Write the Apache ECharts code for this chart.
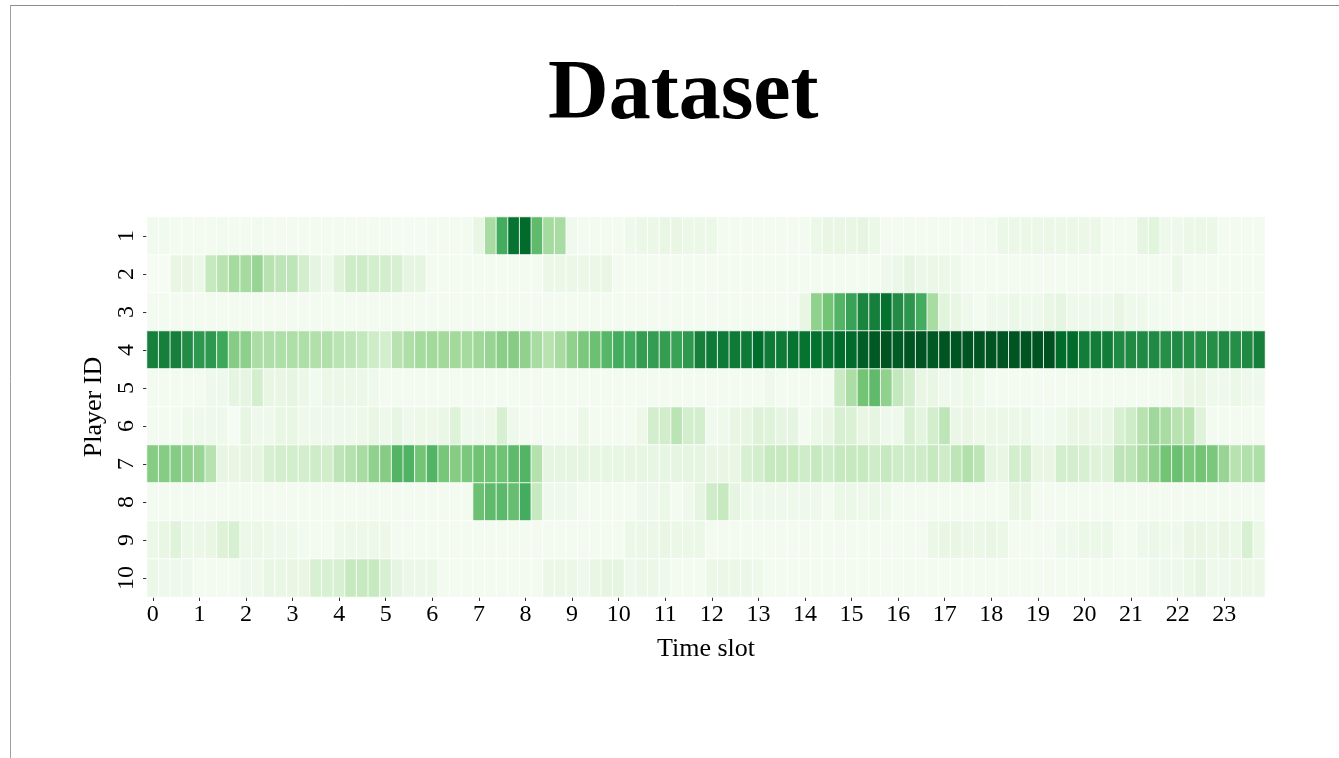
<!DOCTYPE html>
<html>
<head>
<meta charset="utf-8">
<title>Dataset</title>
<script src="https://cdn.jsdelivr.net/npm/echarts@6/dist/echarts.min.js"></script>
<style>
  html, body { margin: 0; padding: 0; background: #ffffff; }
  #chart { width: 1339px; height: 758px; }
</style>
</head>
<body>
<div id="chart"></div>
<script>
// Player activity per 15-minute slot (4 slots per hour, 96 per day), scale 0-100
const playerIds = ['1', '2', '3', '4', '5', '6', '7', '8', '9', '10'];
const hourLabels = ['0','1','2','3','4','5','6','7','8','9','10','11','12','13','14','15','16','17','18','19','20','21','22','23'];
const slotsPerHour = 4;

const player1 = [
  4,4,3,3,3,3,4,3,3,4,3,3,3,3,3,3,3,3,3,3,3,2,2,2,
  3,3,3,3,10,35,62,85,88,55,36,35,5,3,3,3,3,6,8,8,10,10,8,8,
  8,3,3,3,3,3,3,3,3,8,10,10,10,12,8,3,3,3,3,3,3,3,3,3,
  4,8,8,8,8,8,8,8,8,8,3,3,3,12,14,6,6,8,8,8,3,3,3,3
];
const player2 = [
  1,1,10,10,8,25,30,36,36,40,30,28,28,20,12,6,15,22,22,20,20,18,12,12,
  3,3,3,3,3,3,3,3,3,3,8,8,8,8,8,10,3,3,3,3,3,3,3,3,
  3,3,3,3,3,3,3,3,3,3,3,3,3,3,3,6,8,12,8,8,8,6,3,3,
  3,3,3,3,3,3,3,3,3,3,3,3,3,3,3,3,8,3,3,3,3,3,3,3
];
const player3 = [
  3,3,3,3,3,3,3,3,3,3,3,3,3,3,3,3,3,3,3,3,3,3,3,3,
  3,3,3,3,3,3,3,3,3,3,3,3,3,3,3,3,3,3,3,3,3,3,3,3,
  3,3,3,3,3,3,3,3,10,42,50,58,66,78,80,86,75,71,62,35,14,10,6,3,
  6,6,8,6,6,10,12,6,6,6,6,10,6,6,4,3,3,3,3,3,3,3,3,3
];
const player4 = [
  80,80,80,75,70,70,64,45,43,34,33,33,33,33,32,32,29,28,26,22,20,30,33,36,
  37,37,37,36,38,40,44,45,42,35,30,35,42,48,52,57,62,62,68,68,68,66,70,80,
  82,82,82,82,87,82,82,85,85,86,85,88,88,92,94,95,93,95,95,94,95,95,95,95,
  95,95,95,95,95,96,88,88,81,81,81,76,76,76,76,74,76,74,74,74,76,74,76,80
];
const player5 = [
  3,3,3,3,3,6,6,12,12,20,10,10,12,8,4,8,8,8,8,6,3,3,3,3,
  3,3,3,3,3,3,3,3,3,3,3,3,3,3,3,3,3,3,3,3,3,3,3,3,
  3,3,3,3,3,6,3,3,3,3,3,24,34,50,55,42,26,20,10,10,6,6,8,6,
  3,3,3,3,3,3,3,3,3,3,3,3,3,3,3,3,6,10,10,6,6,8,6,6
];
const player6 = [
  3,3,3,6,6,6,6,2,11,6,6,10,10,6,6,6,6,6,7,10,6,11,6,7,
  7,9,16,6,6,7,18,6,3,3,3,3,3,8,3,3,3,3,7,20,21,29,20,20,
  5,6,10,11,16,15,12,12,3,8,10,18,17,10,12,6,6,18,13,20,28,9,10,7,
  8,8,8,8,4,4,6,10,10,8,10,18,22,30,38,35,30,30,15,3,3,3,3,3
];
const player7 = [
  45,45,45,42,40,30,11,10,12,12,18,20,20,20,22,21,28,31,35,42,45,58,59,50,
  58,49,45,48,51,51,51,55,58,31,12,12,12,12,11,11,11,11,11,11,11,12,12,12,
  10,10,10,18,20,25,25,25,22,25,22,25,25,25,22,25,22,22,22,25,22,28,32,28,
  12,10,20,20,10,10,20,20,18,15,15,28,28,35,42,50,52,48,50,48,40,30,32,33
];
const player8 = [
  3,3,3,3,3,3,3,3,3,3,3,3,3,3,3,3,3,3,3,3,3,3,3,3,
  3,3,3,3,52,55,56,53,62,25,6,6,6,3,3,3,3,3,6,6,8,3,6,12,
  22,25,12,6,6,6,6,6,6,6,3,8,8,6,8,6,3,3,3,3,3,3,3,3,
  3,3,10,10,3,3,3,3,3,3,3,3,3,3,3,3,3,3,3,3,3,3,3,3
];
const player9 = [
  8,10,15,8,8,10,16,18,8,8,7,6,6,4,3,3,6,7,7,7,7,3,3,3,
  3,3,3,3,3,3,3,3,3,3,3,3,3,3,3,3,3,8,8,8,10,8,8,8,
  3,3,3,3,3,3,3,3,3,3,3,3,3,3,3,3,3,3,3,8,10,10,8,8,
  10,8,3,3,3,3,6,6,8,8,8,3,3,6,8,6,6,10,10,8,10,8,18,8
];
const player10 = [
  8,6,6,6,3,3,3,3,6,6,10,10,10,10,18,18,18,25,25,25,18,12,8,8,
  8,3,3,3,3,3,3,3,3,3,8,8,8,6,10,12,12,6,8,8,6,3,3,3,
  8,8,8,8,6,3,3,3,3,3,3,3,3,3,3,3,3,3,3,3,3,3,3,3,
  3,3,3,3,3,3,3,3,3,3,3,3,3,3,6,6,6,8,12,6,6,8,8,8
];

const playerRows = [player1, player2, player3, player4, player5,
                    player6, player7, player8, player9, player10];

// Sequential green palette (light → dark)
const greens = ['#f7fcf5', '#e5f5e0', '#c7e9c0', '#a1d99b', '#74c476',
                '#41ab5d', '#238b45', '#006d2c', '#00441b'];

const slots = [];
for (let i = 0; i < hourLabels.length * slotsPerHour; i++) slots.push(String(i));

const cells = [];
playerRows.forEach((row, r) => {
  row.forEach((v, c) => cells.push([c, r, v]));
});

const showHourTick = (i) => i % slotsPerHour === 0;
const serif = '"Liberation Serif", "Times New Roman", "DejaVu Serif", serif';

const chart = echarts.init(document.getElementById('chart'), null, { renderer: 'canvas' });
chart.setOption({
  backgroundColor: '#ffffff',
  animation: false,
  title: {
    text: 'Dataset',
    left: 543,
    top: 49,
    textStyle: { fontFamily: serif, fontSize: 84, fontWeight: 'bold', color: '#000000' }
  },
  grid: { left: 147, right: 74, top: 217, bottom: 161, containLabel: false },
  xAxis: {
    type: 'category',
    data: slots,
    name: 'Time slot',
    nameLocation: 'middle',
    nameGap: 39,
    nameTextStyle: { fontFamily: serif, fontSize: 26, color: '#000000' },
    axisLine: { show: false },
    axisTick: {
      show: true, alignWithLabel: true, length: 4,
      interval: (i) => showHourTick(i),
      lineStyle: { color: '#333333', width: 1 }
    },
    axisLabel: {
      interval: (i) => showHourTick(i),
      formatter: (v, i) => hourLabels[i / slotsPerHour],
      fontFamily: serif, fontSize: 24, color: '#000000', margin: 6
    },
    splitLine: { show: false }
  },
  yAxis: {
    type: 'category',
    data: playerIds,
    inverse: true,
    name: 'Player ID',
    nameLocation: 'middle',
    nameGap: 40,
    nameRotate: 90,
    nameTextStyle: { fontFamily: serif, fontSize: 26, color: '#000000' },
    axisLine: { show: false },
    axisTick: { show: true, alignWithLabel: true, length: 4, lineStyle: { color: '#333333', width: 1 } },
    axisLabel: {
      rotate: 90,
      fontFamily: serif, fontSize: 24, color: '#000000', margin: 8
    },
    splitLine: { show: false }
  },
  visualMap: {
    show: false,
    min: 0,
    max: 100,
    dimension: 2,
    inRange: { color: greens }
  },
  series: [{
    type: 'heatmap',
    data: cells,
    itemStyle: { borderColor: 'rgba(255,255,255,0.85)', borderWidth: 1 },
    emphasis: { disabled: true }
  }],
  graphic: [
    { type: 'line', shape: { x1: 10, y1: 5.5, x2: 1339, y2: 5.5 }, style: { stroke: '#8c8c8c', lineWidth: 1 } },
    { type: 'line', shape: { x1: 10.5, y1: 5, x2: 10.5, y2: 758 }, style: { stroke: '#a0a0a0', lineWidth: 1 } }
  ]
});
</script>
</body>
</html>
